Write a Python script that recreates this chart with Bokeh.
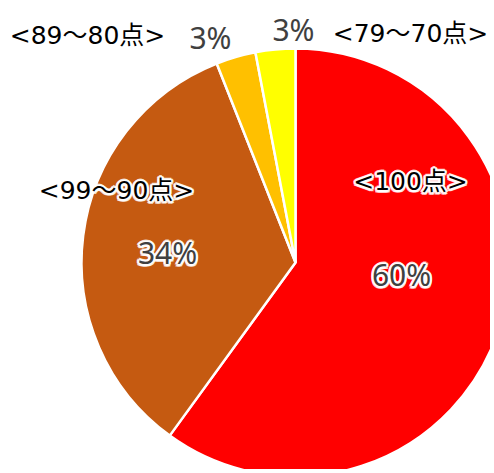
import numpy as np
from bokeh.plotting import figure
from bokeh.models import Range1d, ColumnDataSource
from bokeh.core.properties import value
from bokeh.embed import file_html
from bokeh.resources import INLINE

# ---- data ----
categories = ["<100点>", "<99～90点>", "<89～80点>", "<79～70点>"]
shares = [60, 34, 3, 3]
pct_labels = ["60%", "34%", "3%", "3%"]
colors = ["#FF0000", "#C55A11", "#FFC000", "#FFFF00"]

# ---- layout (page pixel coordinates) ----
W, H = 490, 469
ORG = 0
PAGE_H = 473
cx, cy, R = 295, 262, 214
cat_pos = [(410, 181), (116, 190), (87, 35), (410, 33)]
pct_pos = [(401, 274), (167, 252), (210, 37), (293, 29)]
halo_cat = [0, 1]
halo_pct = [0, 1]
halo_offsets = [(-2, 0), (2, 0), (0, -2), (0, 2), (-1.5, -1.5), (1.5, -1.5), (-1.5, 1.5), (1.5, 1.5)]

def py(y):
    return PAGE_H - y

frac = np.array(shares, dtype=float) / sum(shares)
ends = np.pi / 2 - 2 * np.pi * np.cumsum(frac)
starts = np.concatenate([[np.pi / 2], ends[:-1]])

p = figure(width=W, height=H, output_backend="svg", toolbar_location=None,
           x_range=Range1d(ORG, ORG + W), y_range=Range1d(PAGE_H - ORG - H, PAGE_H - ORG),
           min_border=0)
p.axis.visible = False
p.grid.visible = False
p.outline_line_color = None
p.background_fill_color = "white"

src = ColumnDataSource(dict(start=starts, end=ends, color=colors))
p.wedge(x=cx, y=py(cy), radius=R, start_angle="start", end_angle="end",
        direction="clock", fill_color="color", line_color="white", line_width=2.5,
        source=src)

def add_text(pos, texts, idx_halo, size, font, color):
    hs = ColumnDataSource(dict(x=[pos[i][0] for i in idx_halo],
                               y=[py(pos[i][1]) for i in idx_halo],
                               t=[texts[i] for i in idx_halo]))
    for dx, dy in halo_offsets:
        p.text(x="x", y="y", text="t", source=hs, text_align="center", text_baseline="middle",
               text_font=value(font), text_font_size=size, text_color="white",
               text_outline_color="white", text_alpha=0.7, x_offset=dx, y_offset=dy)
    s = ColumnDataSource(dict(x=[c[0] for c in pos], y=[py(c[1]) for c in pos], t=texts))
    p.text(x="x", y="y", text="t", source=s, text_align="center", text_baseline="middle",
           text_font=value(font), text_font_size=size, text_color=color)

add_text(cat_pos, categories, halo_cat, "25px", "DejaVu Sans, Noto Sans CJK JP", "black")
add_text(pct_pos, pct_labels, halo_pct, "30px", "Noto Sans", "#404040")

open("out.html", "w").write(file_html(p, INLINE))
